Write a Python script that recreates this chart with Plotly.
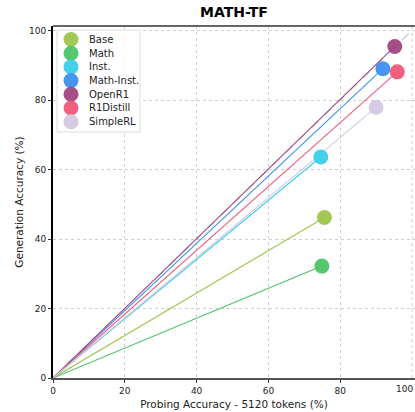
import plotly.graph_objects as go

# Model variants and their accuracies (%)
models = ["Base", "Math", "Inst.", "Math-Inst.", "OpenR1", "R1Distill", "SimpleRL"]
probing_acc = [75.6, 74.9, 74.6, 91.9, 95.2, 95.9, 90.0]
generation_acc = [46.2, 32.2, 63.6, 89.0, 95.4, 88.1, 77.9]
colors = ["#9dc64c", "#4cc468", "#3dcde9", "#3d8ff0", "#a0467f", "#ef5878", "#d4c8e0"]

x_ticks = [0, 20, 40, 60, 80, 100]
y_ticks = [0, 20, 40, 60, 80, 100]

W, H = 415, 412
ML, MR, MT, MB = 53, 0, 26, 34
PW, PH = W - ML - MR, H - MT - MB

FONT = "DejaVu Sans"

fig = go.Figure()

# reference diagonal y = x
fig.add_trace(go.Scatter(
    x=[0, 100], y=[0, 100], mode="lines",
    line=dict(color="#c8c8c8", width=1.2, dash="dash"),
    showlegend=False, hoverinfo="skip"))

# rays from origin to each model point
for name, px, gy, c in zip(models, probing_acc, generation_acc, colors):
    fig.add_trace(go.Scatter(
        x=[0, px], y=[0, gy], mode="lines",
        line=dict(color=c, width=1.1),
        showlegend=False, hoverinfo="skip"))

for name, px, gy, c in zip(models, probing_acc, generation_acc, colors):
    fig.add_trace(go.Scatter(
        x=[px], y=[gy], mode="markers", name=name,
        marker=dict(color=c, size=15, opacity=0.95, line=dict(width=0)),
        showlegend=False))

# legend drawn as a boxed list of circles and labels
shapes = []
annotations = []
box_l, box_r, box_t, box_b = 57, 140, 30, 132


def px2paper_x(p):
    return (p - ML) / PW


def px2paper_y(p):
    return (H - MB - p) / PH


shapes.append(dict(
    type="rect", xref="paper", yref="paper",
    x0=px2paper_x(box_l), x1=px2paper_x(box_r),
    y0=px2paper_y(box_b), y1=px2paper_y(box_t),
    line=dict(color="#dddddd", width=1), fillcolor="rgba(255,255,255,0.85)",
    layer="above"))

row0, step = 39.5, 13.7
for i, (name, c) in enumerate(zip(models, colors)):
    cy = row0 + i * step
    shapes.append(dict(
        type="circle", xref="paper", yref="paper",
        xsizemode="pixel", ysizemode="pixel",
        xanchor=px2paper_x(71), yanchor=px2paper_y(cy),
        x0=-7.5, x1=7.5, y0=-7.5, y1=7.5,
        fillcolor=c, line=dict(width=0), opacity=0.95, layer="above"))
    annotations.append(dict(
        xref="paper", yref="paper", x=px2paper_x(87), y=px2paper_y(cy),
        text=name, showarrow=False, xanchor="left", yanchor="middle",
        font=dict(family=FONT, size=10, color="#222222")))

# last x tick label sits at the right edge of the figure
annotations.append(dict(
    xref="paper", yref="paper", x=1, y=0, yshift=-4,
    text=str(x_ticks[-1]), showarrow=False, xanchor="right", yanchor="top",
    font=dict(family=FONT, size=9, color="#222222")))

fig.update_layout(
    width=W, height=H,
    margin=dict(l=ML, r=MR, t=MT, b=MB),
    paper_bgcolor="white", plot_bgcolor="white",
    title=dict(text="<b>MATH-TF</b>", xref="paper", x=0.5, xanchor="center", y=0.97, yanchor="middle",
               font=dict(family=FONT, size=14, color="black")),
    font=dict(family=FONT, size=9, color="#222222"),
    shapes=shapes, annotations=annotations,
    showlegend=False,
)

fig.update_xaxes(
    range=[0, PW / 3.59], tickvals=x_ticks[:-1], ticks="outside", ticklen=3, tickcolor="#333",
    showgrid=True, gridcolor="#d0d0d0", griddash="dot", gridwidth=1,
    showline=True, linecolor="#555555", linewidth=2, mirror=False, zeroline=False,
    title=dict(text="Probing Accuracy - 5120 tokens (%)", font=dict(family=FONT, size=10.5), standoff=6),
    tickfont=dict(family=FONT, size=9))
fig.update_yaxes(
    range=[0, PH / 3.475], tickvals=y_ticks, ticks="outside", ticklen=3, tickcolor="#333",
    showgrid=True, gridcolor="#d0d0d0", griddash="dot", gridwidth=1,
    showline=True, linecolor="black", linewidth=2, mirror=False, zeroline=False,
    title=dict(text="Generation Accuracy (%)", font=dict(family=FONT, size=10.5), standoff=3),
    tickfont=dict(family=FONT, size=9))

# grid line at x = 100
fig.add_shape(type="line", xref="x", yref="paper", x0=100, x1=100, y0=0, y1=1,
              line=dict(color="#d0d0d0", width=1, dash="dot"), layer="below")

# top frame line
fig.add_shape(type="line", xref="paper", yref="paper", x0=0, x1=1, y0=1, y1=1,
              line=dict(color="#333333", width=1.5))

fig.write_html("out.html")
